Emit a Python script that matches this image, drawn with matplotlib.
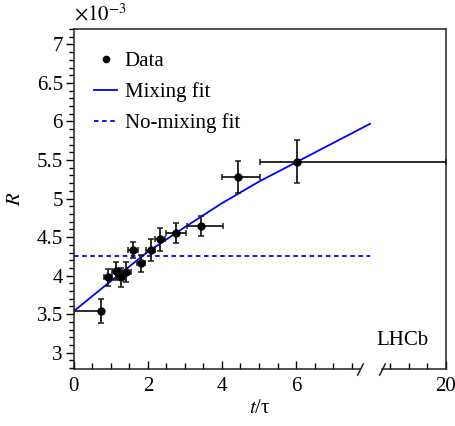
import numpy as np
import matplotlib
matplotlib.use("Agg")
import matplotlib.pyplot as plt
from matplotlib.lines import Line2D
from matplotlib.ticker import FixedLocator, NullFormatter, FixedFormatter

plt.rcParams["font.family"] = ["Liberation Serif", "DejaVu Serif"]
plt.rcParams["mathtext.fontset"] = "stix"
plt.rcParams["font.size"] = 15

# ── data (R in units of 1e-3) ──
t = [0.72, 0.93, 1.13, 1.26, 1.42, 1.59, 1.81, 2.08, 2.33, 2.75, 3.43, 4.43, 6.02]
R = [3.54, 3.98, 4.06, 3.98, 4.05, 4.33, 4.16, 4.33, 4.47, 4.55, 4.64, 5.28, 5.48]
R_err = [0.155, 0.112, 0.112, 0.123, 0.13, 0.107, 0.112, 0.14, 0.149, 0.13, 0.13, 0.21, 0.28]
t_lo = [0.72, 0.11, 0.11, 0.10, 0.11, 0.13, 0.11, 0.12, 0.14, 0.26, 0.38, 0.42, 0.99]
t_hi = [0.02, 0.11, 0.11, 0.10, 0.11, 0.13, 0.11, 0.12, 0.14, 0.27, 0.59, 0.60, 13.98]

t_fit = [0, 1, 2, 3, 4, 5, 6, 7, 8.0]
R_mix = [3.54, 3.93, 4.31, 4.63, 4.94, 5.22, 5.47, 5.72, 5.97]
R_nomix = 4.25

# ── broken x axis: 0..~8 linear, then jump to 18.27..20 ──
A, B = 8.05, 18.27
GAP = 0.27


def fwd(x):
    x = np.asarray(x, dtype=float)
    return np.where(x <= A, x,
                    np.where(x <= B, A + (x - A) * GAP / (B - A), x - (B - A - GAP)))


def inv(y):
    y = np.asarray(y, dtype=float)
    return np.where(y <= A, y,
                    np.where(y <= A + GAP, A + (y - A) * (B - A) / GAP, y + (B - A - GAP)))


fig = plt.figure(figsize=(4.56, 4.26), dpi=100)
ax = fig.add_axes([0.162, 0.134, 0.816, 0.798])
ax.set_xscale("function", functions=(fwd, inv))
ax.set_xlim(0, 20)
ax.set_ylim(2.79, 7.2)

ax.errorbar(t, R, yerr=R_err, xerr=[t_lo, t_hi], fmt="o", color="black",
            ecolor="#1a1a1a", elinewidth=1.3, capsize=2, capthick=1.1,
            markersize=5, zorder=3)
ax.plot(t_fit, R_mix, color="#0000ff", lw=1.3, zorder=2)
ax.plot([t_fit[0], t_fit[-1]], [R_nomix, R_nomix], color="#0000ff", lw=1.3,
        ls=(0, (2.5, 2)), zorder=2)

# ticks
ax.xaxis.set_major_locator(FixedLocator([0, 2, 4, 6, 20]))
ax.xaxis.set_minor_locator(FixedLocator([0.5, 1, 1.5, 2.5, 3, 3.5, 4.5, 5, 5.5,
                                         6.5, 7, 7.5, 18.5, 19, 19.5]))
ax.xaxis.set_major_formatter(FixedFormatter(["0", "2", "4", "6", "20"]))
ax.xaxis.set_minor_formatter(NullFormatter())
ax.yaxis.set_major_locator(FixedLocator([3, 3.5, 4, 4.5, 5, 5.5, 6, 6.5, 7]))
ax.yaxis.set_minor_locator(FixedLocator(np.arange(2.8, 7.21, 0.1)))
ax.set_yticklabels(["3", "3.5", "4", "4.5", "5", "5.5", "6", "6.5", "7"])
ax.tick_params(axis="x", which="both", direction="in", top=False, pad=6)
ax.tick_params(axis="x", which="major", length=6, width=1)
ax.tick_params(axis="x", which="minor", length=4, width=1)
ax.tick_params(axis="y", which="both", direction="out", right=False, pad=2)
ax.tick_params(axis="y", which="major", length=6, width=1)
ax.tick_params(axis="y", which="minor", length=3.5, width=1)

for s in ax.spines.values():
    s.set_linewidth(1.1)
    s.set_color("#222222")

# bottom spine with a gap and break marks
ax.spines["bottom"].set_visible(False)
xt = ax.get_xaxis_transform()
ax.plot([0, 7.73], [0, 0], transform=xt, color="#222222", lw=1.1, clip_on=False)
ax.plot([B, 20], [0, 0], transform=xt, color="#222222", lw=1.1, clip_on=False)
ax.plot([7.73, B], [0, 0], transform=xt, ls="none", marker=[(-1, -2), (1, 2)],
        markersize=9, mec="#222222", mew=1.1, clip_on=False)

ax.set_xlabel("$t$/τ", labelpad=2)
ax.set_ylabel("$R$", labelpad=8)
ax.text(0, 1.012, r"$\times10^{-3}$", transform=ax.transAxes, ha="left", va="bottom")
ax.text(0.884, 0.085, "LHCb", transform=ax.transAxes, ha="center", va="center")

handles = [
    Line2D([], [], ls="none", marker="o", color="black", markersize=4.5),
    Line2D([], [], color="#0000ff", lw=1.3),
    Line2D([], [], color="#0000ff", lw=1.3, ls=(0, (2.5, 2))),
]
ax.legend(handles, ["Data", "Mixing fit", "No-mixing fit"], loc="upper left",
          bbox_to_anchor=(0.055, 0.933), frameon=False,
          handlelength=1.1, handletextpad=0.35, labelspacing=0.52,
          borderpad=0, borderaxespad=0)

fig.savefig("out.png", dpi=100)
